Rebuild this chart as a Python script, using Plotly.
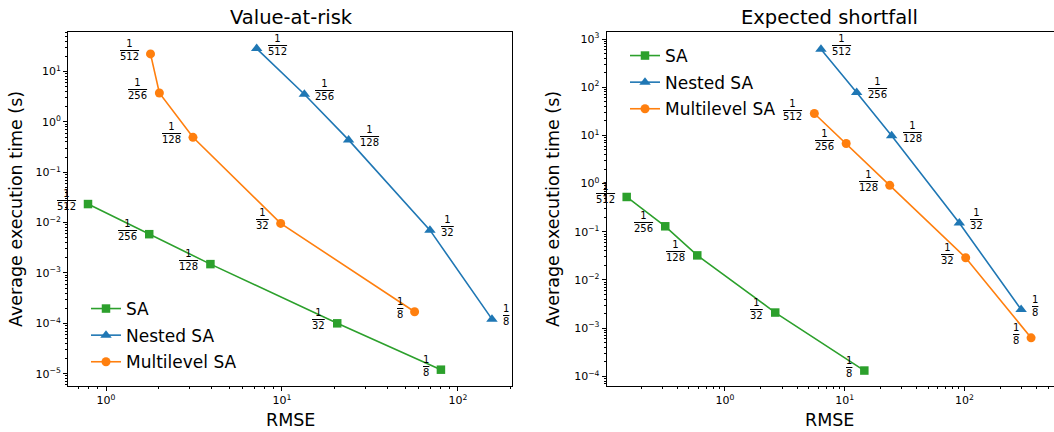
import numpy as np
import plotly.graph_objects as go

# ---------------- data ----------------
step_denoms = [512, 256, 128, 32, 8]

# Value-at-risk
var_sa_rmse = [0.79, 1.76, 3.92, 20.6, 80.0]
var_sa_time = [0.0234, 0.0059, 0.0015, 1.0e-4, 1.2e-5]
var_nested_rmse = [7.18, 13.4, 23.9, 69.3, 156.0]
var_nested_time = [28.7, 3.55, 0.44, 0.0071, 1.21e-4]
var_ml_rmse = [1.79, 2.01, 3.12, 9.83, 56.7]
var_ml_time = [22.5, 3.77, 0.495, 0.00966, 1.7e-4]

# Expected shortfall
es_sa_rmse = [0.151, 0.317, 0.587, 2.63, 14.6]
es_sa_time = [0.528, 0.130, 0.0324, 0.00211, 1.32e-4]
es_nested_rmse = [6.34, 12.6, 24.7, 90.8, 298.0]
es_nested_time = [611.0, 78.0, 9.8, 0.152, 0.00244]
es_ml_rmse = [5.58, 10.3, 23.8, 102.6, 361.0]
es_ml_time = [28.5, 6.79, 0.92, 0.029, 6.3e-4]

series_names = ["SA", "Nested SA", "Multilevel SA"]

# ---------------- style ----------------
W, H = 1054, 432
FONT = "DejaVu Sans"
GREEN, BLUE, ORANGE = "#2ca02c", "#1f77b4", "#ff7f0e"
colors = [GREEN, BLUE, ORANGE]
symbols = ["square", "triangle-up", "circle"]
msizes = [8.5, 10, 9]
label_side = ["left", "right", "left"]  # where the fraction label sits


def px_x(p):
    return p / W


def px_y(p):
    return 1 - p / H


fig = go.Figure()

panels = [
    dict(xa="x", ya="y", legend="legend",
         data=[(var_sa_rmse, var_sa_time), (var_nested_rmse, var_nested_time), (var_ml_rmse, var_ml_time)]),
    dict(xa="x2", ya="y2", legend="legend2",
         data=[(es_sa_rmse, es_sa_time), (es_nested_rmse, es_nested_time), (es_ml_rmse, es_ml_time)]),
]

annotations = []
for panel in panels:
    for i, (xs, ys) in enumerate(panel["data"]):
        fig.add_trace(go.Scatter(
            x=xs, y=ys, mode="lines+markers", name=series_names[i],
            xaxis=panel["xa"], yaxis=panel["ya"], legend=panel["legend"],
            legendgroup=panel["legend"] + series_names[i],
            line=dict(color=colors[i], width=1.6),
            marker=dict(color=colors[i], symbol=symbols[i], size=msizes[i], line=dict(width=0)),
            cliponaxis=False,
        ))
        for xv, yv, d in zip(xs, ys, step_denoms):
            txt = "1<br><span style='text-decoration:overline'>%d</span>" % d
            if label_side[i] == "left":
                xanchor, xshift = "right", -10
            else:
                xanchor, xshift = "left", 9
            annotations.append(dict(
                x=np.log10(xv), y=np.log10(yv), xref=panel["xa"], yref=panel["ya"],
                text=txt, showarrow=False, xanchor=xanchor, yanchor="middle",
                xshift=xshift, yshift=4, align="center",
                font=dict(family=FONT, size=10, color="black"),
            ))


def sup_label(e):
    s = str(e).replace("-", "\u2212")
    return "10<sup>%s</sup>" % s


def minor_vals(lo, hi):
    out = []
    for e in range(lo, hi + 1):
        for m in range(2, 10):
            out.append(m * 10.0 ** e)
    return out


def axis_common():
    return dict(type="log", showgrid=False, zeroline=False, showline=True, linecolor="black",
                linewidth=1, mirror=True, ticks="outside", ticklen=4, tickwidth=1, tickcolor="black",
                tickfont=dict(family=FONT, size=11, color="black"),
                minor=dict(ticks="outside", ticklen=2, tickwidth=0.8, tickcolor="black",
                           tickvals=minor_vals(-6, 3), showgrid=False))


xd = [0, 1, 2]
yd1 = [-5, -4, -3, -2, -1, 0, 1]
yd2 = [-4, -3, -2, -1, 0, 1, 2, 3]

fig.update_layout(
    width=W, height=H, margin=dict(l=0, r=0, t=0, b=0),
    paper_bgcolor="white", plot_bgcolor="white",
    font=dict(family=FONT, color="black"),
    xaxis=dict(axis_common(), domain=[px_x(68), px_x(512)], range=[-0.216, 2.307],
               tickvals=[10.0 ** e for e in xd], ticktext=[sup_label(e) for e in xd], anchor="y"),
    yaxis=dict(axis_common(), domain=[px_y(386), px_y(32)], range=[-5.245, 1.787],
               tickvals=[10.0 ** e for e in yd1], ticktext=[sup_label(e) for e in yd1], anchor="x"),
    xaxis2=dict(axis_common(), domain=[px_x(606.7), 1.0], range=[-0.988, 2.749],
                tickvals=[10.0 ** e for e in xd], ticktext=[sup_label(e) for e in xd], anchor="y2"),
    yaxis2=dict(axis_common(), domain=[px_y(386), px_y(32)], range=[-4.20, 3.146],
                tickvals=[10.0 ** e for e in yd2], ticktext=[sup_label(e) for e in yd2], anchor="x2"),
    legend=dict(x=px_x(86), y=px_y(291), xanchor="left", yanchor="top",
                bgcolor="rgba(0,0,0,0)", font=dict(family=FONT, size=17, color="black"),
                tracegroupgap=1.5),
    legend2=dict(x=px_x(625), y=px_y(38), xanchor="left", yanchor="top",
                 bgcolor="rgba(0,0,0,0)", font=dict(family=FONT, size=17, color="black"),
                 tracegroupgap=1.5),
    showlegend=True,
)

# titles and axis labels
text_items = [
    ("Value-at-risk", 291, 18, 0, 19.5),
    ("Expected shortfall", 829, 18, 0, 19.5),
    ("RMSE", 290, 420, 0, 17.5),
    ("RMSE", 829, 420, 0, 17.5),
    ("Average execution time (s)", 16, 209, -90, 17.5),
    ("Average execution time (s)", 553, 209, -90, 17.5),
]
for t, xp, yp, ang, fs in text_items:
    annotations.append(dict(text=t, x=px_x(xp), y=px_y(yp), xref="paper", yref="paper",
                            showarrow=False, xanchor="center", yanchor="middle", textangle=ang,
                            font=dict(family=FONT, size=fs, color="black")))

fig.update_layout(annotations=annotations)
fig.write_html("out.html", config={"displayModeBar": False},
               post_script="document.body.style.margin='0px';document.body.style.overflow='hidden';")
